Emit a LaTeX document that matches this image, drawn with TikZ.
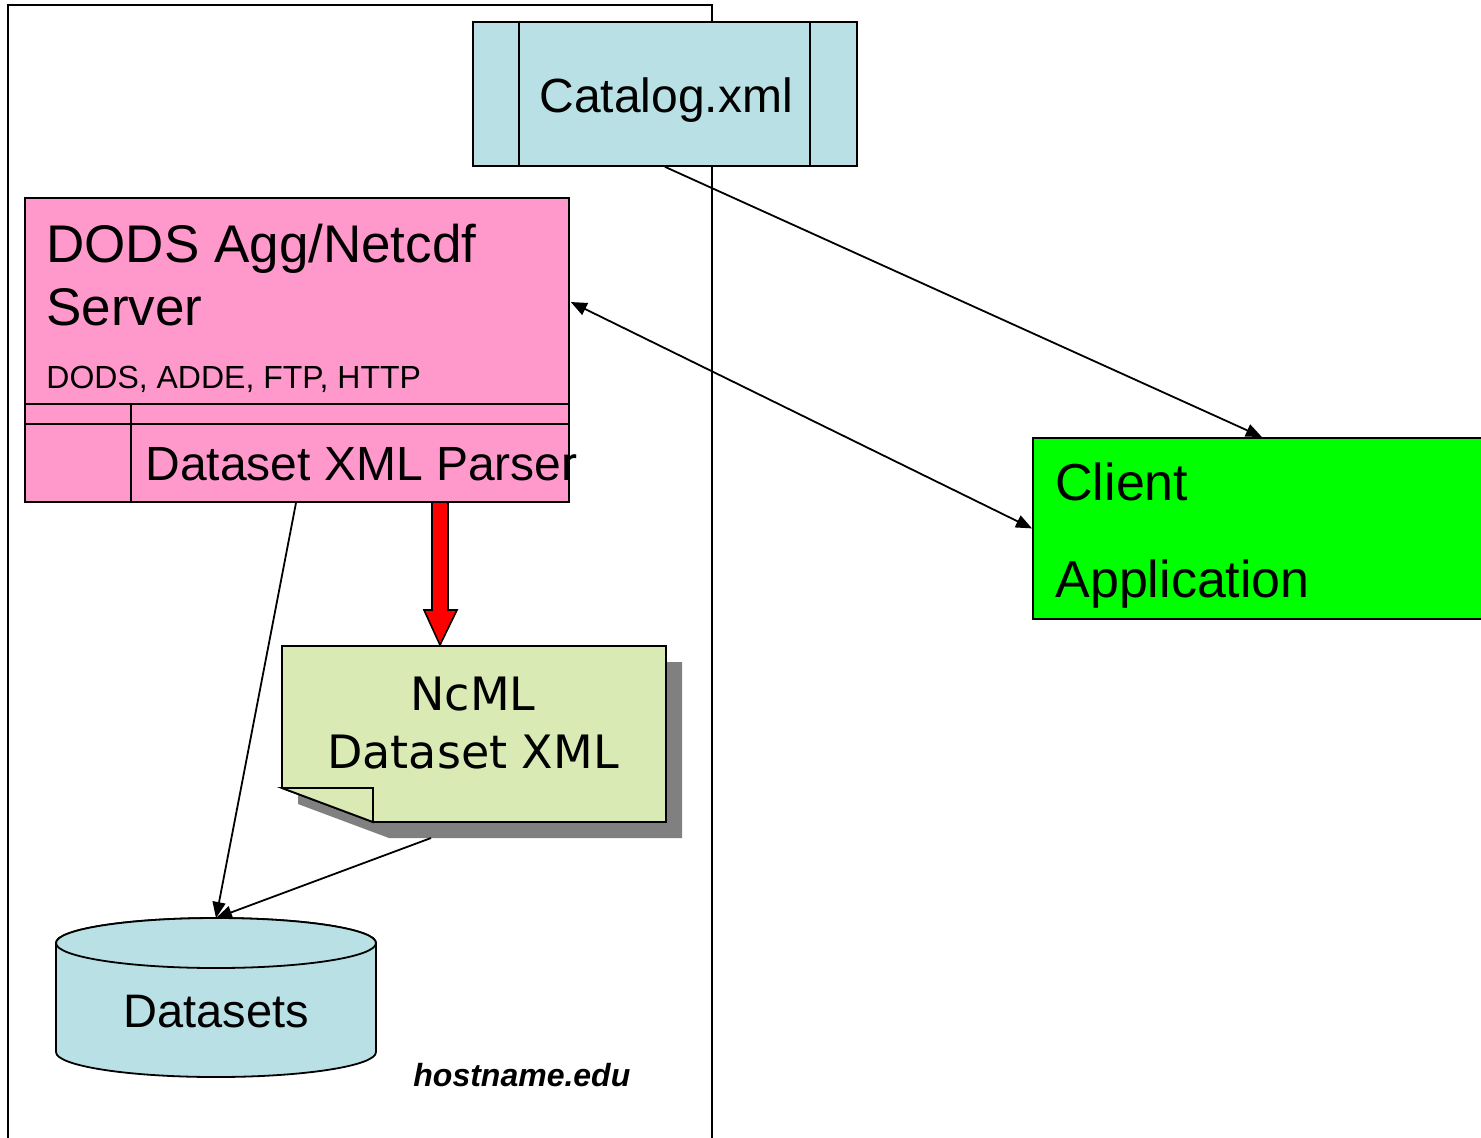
\documentclass[tikz,border=0pt]{standalone}
\usepackage{fontspec}
\setmainfont{Liberation Sans}
\newfontfamily\notefont{DejaVu Sans}
\usetikzlibrary{arrows.meta,calc}
\definecolor{catblue}{RGB}{185,224,228}
\definecolor{dodspink}{RGB}{255,153,204}
\definecolor{clientgreen}{RGB}{0,255,0}
\definecolor{notegreen}{RGB}{217,234,180}
\definecolor{shadowgray}{RGB}{128,128,128}
\tikzset{
  boxline/.style={draw=black, line width=0.9pt},
  txt/.style={anchor=base west, inner sep=0pt, text=black},
  conn/.style={line width=0.9pt, -{Triangle[length=8pt,width=6.5pt]}},
  conn2/.style={line width=0.9pt, {Triangle[length=8pt,width=6.5pt]}-{Triangle[length=8pt,width=6.5pt]}},
}
\begin{document}
\begin{tikzpicture}[x=0.5pt,y=-0.5pt]
\clip (0,0) rectangle (1481,1137);
\fill[white] (0,0) rectangle (1481,1137);
% host outline
\draw[line width=1pt] (8,1140) -- (8,5) -- (712,5) -- (712,1140);

% Catalog.xml
\node[boxline, fill=catblue, anchor=north west, minimum width=192pt, minimum height=72pt, inner sep=0pt] (cat) at (472,21) {};
\draw[line width=0.9pt] (519,21) -- (519,165) (810,21) -- (810,165);
\node[txt, font=\fontsize{24}{28}\selectfont] (cattxt) at (539,112) {Catalog.xml};

% DODS server
\node[boxline, fill=dodspink, anchor=north west, minimum width=272pt, minimum height=152pt, inner sep=0pt] (dods) at (24,197) {};
\draw[line width=0.9pt] (24,404) -- (568,404) (24,424) -- (568,424) (131,404) -- (131,501);
\node[txt, font=\fontsize{26.5}{30}\selectfont] (dods1) at (46,262) {DODS Agg/Netcdf};
\node[txt, font=\fontsize{26.5}{30}\selectfont] (dods2) at (46,325) {Server};
\node[txt, font=\fontsize{16}{19}\selectfont] (dods3) at (46,388) {DODS, ADDE, FTP, HTTP};
\node[txt, font=\fontsize{24}{28}\selectfont] (parser) at (145,480) {Dataset XML Parser};

% Client application
\node[boxline, fill=clientgreen, anchor=north west, minimum width=229pt, minimum height=90.5pt, inner sep=0pt] (client) at (1032,437) {};
\node[txt, font=\fontsize{26}{30}\selectfont] (cl1) at (1055,500) {Client};
\node[txt, font=\fontsize{26}{30}\selectfont] (cl2) at (1055,597) {Application};

% NcML note with shadow
\fill[shadowgray] (298,662) -- (682,662) -- (682,838) -- (389,838) -- (298,804) -- cycle;
\filldraw[fill=notegreen, draw=black, line width=0.9pt] (282,646) -- (666,646) -- (666,822) -- (373,822) -- (282,788) -- cycle;
\filldraw[fill=notegreen, draw=black, line width=0.9pt] (282,788) -- (373,788) -- (373,822) -- cycle;
\node[inner sep=0pt, minimum width=192pt, minimum height=88pt, anchor=north west] (note) at (282,646) {};
\node[anchor=base, inner sep=0pt, font=\notefont\fontsize{23}{27}\selectfont] (nc1) at (473,710) {NcML};
\node[anchor=base, inner sep=0pt, font=\notefont\fontsize{23}{27}\selectfont] (nc2) at (473,768) {Dataset XML};
\coordinate (noteout) at (431,838);

% red block arrow
\filldraw[fill=red, draw=black, line width=0.8pt] (432,502) -- (448,502) -- (448,610) -- (457,610) -- (440,645) -- (424,610) -- (432,610) -- cycle;

% Datasets cylinder
\filldraw[fill=catblue, draw=black, line width=0.9pt] (56,943) -- (56,1052) arc[start angle=180, end angle=0, x radius=160, y radius=25] -- (376,943) arc[start angle=0, end angle=-180, x radius=160, y radius=25] -- cycle;
\filldraw[fill=catblue, draw=black, line width=0.9pt] (216,943) ellipse[x radius=160, y radius=25];
\node[inner sep=0pt, minimum width=160pt, minimum height=79.5pt, anchor=north] (ds) at (216,918) {};
\node[txt, font=\fontsize{23.5}{28}\selectfont] (dstxt) at (123,1027) {Datasets};

\node[txt, font=\bfseries\itshape\fontsize{16}{19}\selectfont] (host) at (413,1086) {hostname.edu};

% connectors
\draw[conn] (cat.south) -- (client.north);
\draw[conn2] ($(dods.north east)+(1,105)$) -- (client.west);
\draw[conn] ($(dods.south west)+(272,0)$) -- (ds.north);
\draw[conn] (noteout) -- (ds.north);
\end{tikzpicture}
\end{document}
